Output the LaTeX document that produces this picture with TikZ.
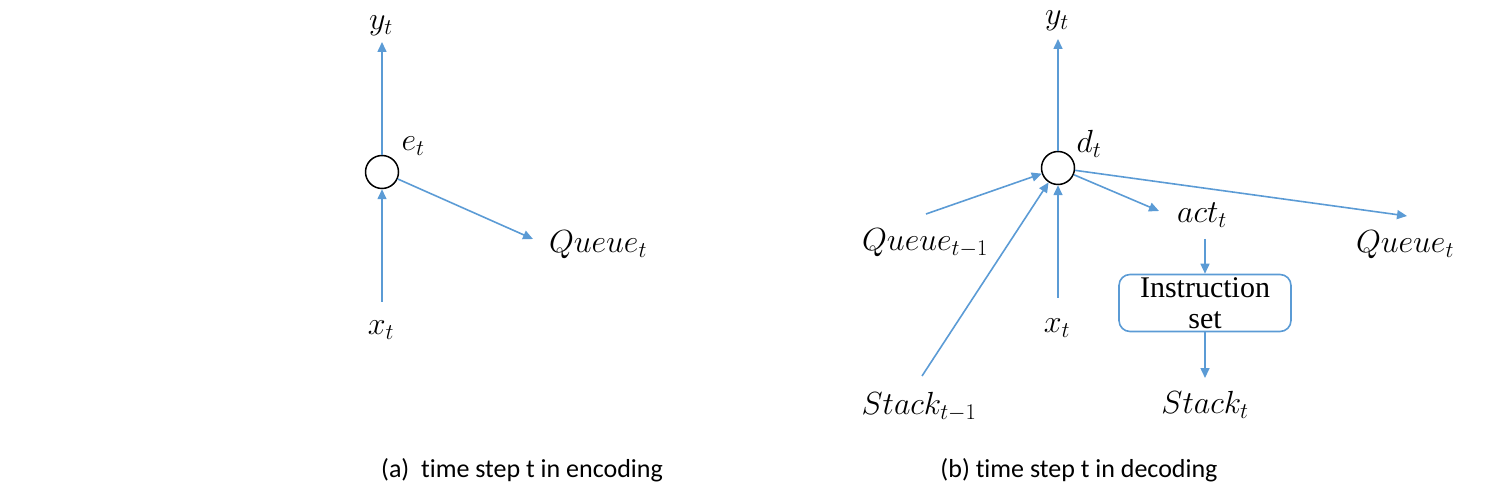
\RequirePackage{fix-cm}
\documentclass[tikz,border=0pt]{standalone}
\usepackage{fontspec}
\usetikzlibrary{arrows.meta}
\newfontfamily\capfont[Ligatures=NoCommon]{Carlito}
\newfontfamily\boxfont{Liberation Serif}
\definecolor{arrblue}{RGB}{91,155,213}
\tikzset{
  arr/.style={draw=arrblue, line width=1.6pt, -{Triangle[length=10pt,width=9pt]}},
  circ/.style={circle, draw=black, line width=1.5pt, minimum size=33pt, inner sep=0pt, fill=white},
  lab/.style={inner sep=0pt, font=\fontsize{32}{36}\selectfont},
  captext/.style={inner sep=0pt, font=\capfont\fontsize{26}{30}\selectfont},
  instr/.style={draw=arrblue, line width=1.6pt, rounded corners=11pt, minimum width=172pt, minimum height=57pt, inner sep=0pt, align=center, font=\boxfont\fontsize{30}{31}\selectfont}
}
\begin{document}
\begin{tikzpicture}[x=1pt,y=-1pt]
\useasboundingbox (0,0) rectangle (1512,502);
% ---------- (a) encoding ----------
\node[circ] (e) at (382,172) {};
\node[lab] (elab) at (413,146) {$e_t$};
\node[lab] (yA) at (381,26) {$y_t$};
\coordinate (yAtip) at (382,42);
\node[lab] (xA) at (381,330) {$x_t$};
\coordinate (xAstart) at (382,302);
\node[lab] (qA) at (598,245) {$Queue_t$};
\coordinate (qAtip) at (533,239);
\draw[arr] (e) -- (yAtip);
\draw[arr] (xAstart) -- (e);
\draw[arr] (e) -- (qAtip);
\node[captext] (capA) at (522,470) {(a)\ \ time step t in encoding};
% ---------- (b) decoding ----------
\node[circ] (d) at (1058,168) {};
\node[lab] (dlab) at (1089,144) {$d_t$};
\node[lab] (yB) at (1057,21) {$y_t$};
\coordinate (yBtip) at (1058,39);
\node[lab] (qprev) at (925,243) {$Queue_{t-1}$};
\coordinate (qprevstart) at (926,214);
\node[lab] (sprev) at (919,407) {$Stack_{t-1}$};
\coordinate (sprevstart) at (922,376);
\node[lab] (xB) at (1057,328) {$x_t$};
\coordinate (xBstart) at (1058,298);
\node[lab] (act) at (1202,215) {$act_t$};
\coordinate (acttip) at (1159,211);
\coordinate (actstart) at (1205,239);
\node[lab] (qB) at (1405,245) {$Queue_t$};
\coordinate (qBtip) at (1407,216);
\node[instr] (box) at (1205,303) {Instruction\\set};
\coordinate (stip) at (1205,378);
\node[lab] (sB) at (1205,405) {$Stack_t$};
\draw[arr] (d) -- (yBtip);
\draw[arr] (qprevstart) -- (d);
\draw[arr] (sprevstart) -- (d);
\draw[arr] (xBstart) -- (d);
\draw[arr] (d) -- (acttip);
\draw[arr] (d) -- (qBtip);
\draw[arr] (actstart) -- (box.north);
\draw[arr] (box.south) -- (stip);
\node[captext] (capB) at (1079,470) {(b) time step t in decoding};
\end{tikzpicture}
\end{document}
